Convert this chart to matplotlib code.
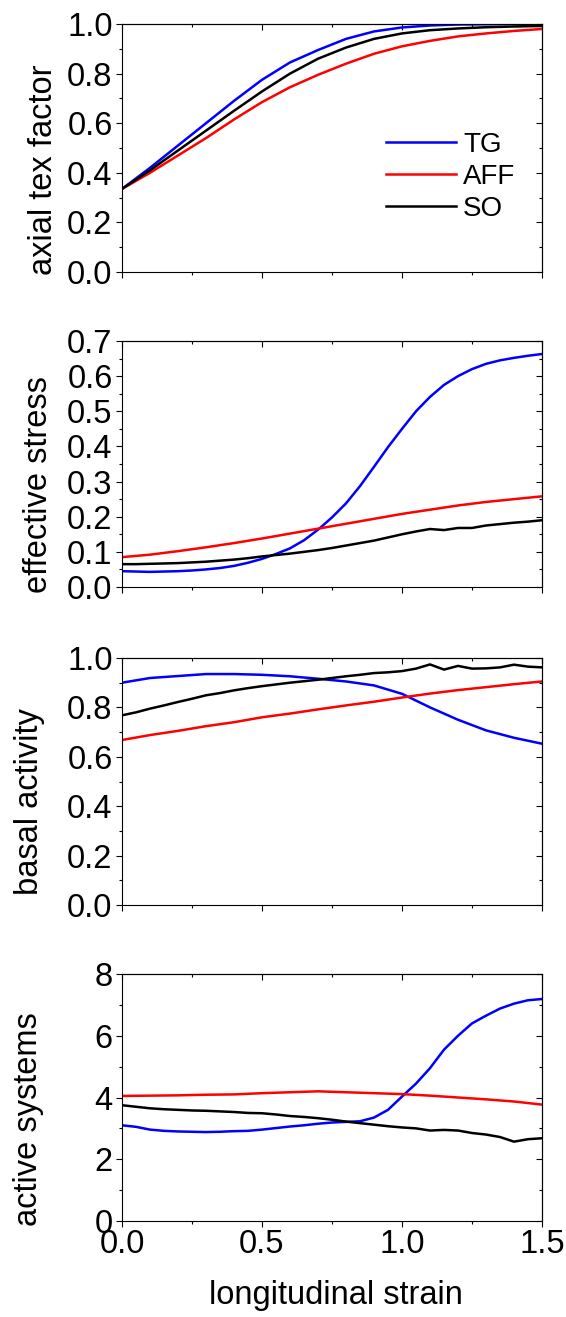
import matplotlib
matplotlib.use("Agg")
import matplotlib.pyplot as plt
from matplotlib.ticker import MultipleLocator, FormatStrFormatter

plt.rcParams['font.family'] = ['Liberation Sans', 'DejaVu Sans']

# strain grids (coarse for smooth curves, fine for the wiggly / steep ones)
strain = [0.0, 0.1, 0.2, 0.3, 0.4, 0.5, 0.6, 0.7, 0.8, 0.9, 1.0, 1.1, 1.2, 1.3, 1.4, 1.5]
strain_fine = [0.0, 0.05, 0.1, 0.15, 0.2, 0.25, 0.3, 0.35, 0.4, 0.45, 0.5, 0.55,
               0.6, 0.65, 0.7, 0.75, 0.8, 0.85, 0.9, 0.95, 1.0, 1.05, 1.1, 1.15,
               1.2, 1.25, 1.3, 1.35, 1.4, 1.45, 1.5]

# axial tex factor
tex_tg = [0.335, 0.42, 0.51, 0.60, 0.69, 0.775, 0.845, 0.895, 0.94, 0.97, 0.986, 0.994, 0.998, 0.999, 1.0, 1.0]
tex_aff = [0.335, 0.40, 0.47, 0.54, 0.615, 0.685, 0.745, 0.795, 0.84, 0.88, 0.91, 0.932, 0.95, 0.962, 0.972, 0.98]
tex_so = [0.335, 0.41, 0.49, 0.57, 0.65, 0.728, 0.80, 0.86, 0.905, 0.94, 0.962, 0.975, 0.982, 0.987, 0.99, 0.992]

# effective stress
stress_tg = [0.045, 0.044, 0.043, 0.044, 0.045, 0.047, 0.05, 0.054, 0.06, 0.069, 0.08, 0.094,
             0.11, 0.133, 0.163, 0.198, 0.238, 0.287, 0.342, 0.398, 0.45, 0.50, 0.541, 0.575,
             0.60, 0.62, 0.635, 0.645, 0.652, 0.658, 0.663]
stress_aff = [0.085, 0.092, 0.102, 0.113, 0.125, 0.138, 0.152, 0.166, 0.18, 0.194, 0.208, 0.22, 0.232, 0.242, 0.25, 0.258]
stress_so = [0.065, 0.065, 0.066, 0.067, 0.068, 0.070, 0.072, 0.075, 0.078, 0.082, 0.087, 0.091,
             0.095, 0.10, 0.105, 0.111, 0.118, 0.125, 0.132, 0.141, 0.15, 0.158, 0.165, 0.162,
             0.168, 0.168, 0.175, 0.179, 0.183, 0.186, 0.19]

# basal activity
basal_tg = [0.90, 0.919, 0.927, 0.935, 0.935, 0.932, 0.926, 0.916, 0.905, 0.889, 0.855, 0.80, 0.75, 0.707, 0.677, 0.653]
basal_aff = [0.668, 0.688, 0.705, 0.724, 0.74, 0.76, 0.775, 0.792, 0.808, 0.823, 0.84, 0.856, 0.87, 0.882, 0.894, 0.905]
basal_so = [0.768, 0.78, 0.795, 0.808, 0.822, 0.835, 0.849, 0.858, 0.869, 0.878, 0.886, 0.893,
            0.90, 0.906, 0.912, 0.919, 0.926, 0.932, 0.939, 0.942, 0.947, 0.957, 0.974, 0.953,
            0.968, 0.957, 0.958, 0.962, 0.973, 0.965, 0.962]

# active systems
systems_tg = [3.1, 3.05, 2.96, 2.92, 2.9, 2.89, 2.88, 2.89, 2.91, 2.92, 2.96, 3.01,
              3.06, 3.1, 3.15, 3.19, 3.21, 3.23, 3.35, 3.6, 4.03, 4.45, 4.95, 5.55,
              6.0, 6.4, 6.65, 6.88, 7.04, 7.15, 7.19]
systems_aff = [4.05, 4.06, 4.07, 4.09, 4.1, 4.14, 4.17, 4.2, 4.17, 4.14, 4.11, 4.06, 4.0, 3.94, 3.87, 3.77]
systems_so = [3.75, 3.7, 3.65, 3.62, 3.6, 3.58, 3.57, 3.55, 3.53, 3.5, 3.49, 3.45,
              3.4, 3.37, 3.33, 3.28, 3.22, 3.17, 3.12, 3.07, 3.03, 3.0, 2.93, 2.95,
              2.93, 2.85, 2.8, 2.72, 2.57, 2.65, 2.68]

W, H = 566, 1317
fig = plt.figure(figsize=(W / 100, H / 100), dpi=100)

# panel boxes in pixels: (top, bottom)
boxes = [(24, 272), (341, 587), (658, 905), (974, 1221)]
left_px, right_px = 122, 542

panels = [
    ("axial tex factor", (tex_tg, strain), (tex_aff, strain), (tex_so, strain), 1.0, 0.2, 0.1, '%.1f'),
    ("effective stress", (stress_tg, strain_fine), (stress_aff, strain), (stress_so, strain_fine), 0.7, 0.1, 0.05, '%.1f'),
    ("basal activity", (basal_tg, strain), (basal_aff, strain), (basal_so, strain_fine), 1.0, 0.2, 0.1, '%.1f'),
    ("active systems", (systems_tg, strain_fine), (systems_aff, strain), (systems_so, strain_fine), 8, 2, 1, '%d'),
]
label_pos = [(52, 170), (47, 485), (38, 802), (37, 1119)]

fs = 23.5
lw = 1.8
for i, (name, tg, aff, so, ymax, ymaj, ymin, fmt) in enumerate(panels):
    top, bot = boxes[i]
    ax = fig.add_axes([left_px / W, 1 - bot / H, (right_px - left_px) / W, (bot - top) / H])
    ax.plot(tg[1], tg[0], color='#0000ff', lw=lw, label='TG')
    ax.plot(aff[1], aff[0], color='#ff0000', lw=lw, label='AFF')
    ax.plot(so[1], so[0], color='black', lw=lw, label='SO')
    ax.set_xlim(0, 1.5)
    ax.set_ylim(0, ymax)
    ax.xaxis.set_major_locator(MultipleLocator(0.5))
    ax.xaxis.set_minor_locator(MultipleLocator(0.25))
    ax.yaxis.set_major_locator(MultipleLocator(ymaj))
    ax.yaxis.set_minor_locator(MultipleLocator(ymin))
    ax.yaxis.set_major_formatter(FormatStrFormatter(fmt))
    ax.xaxis.set_major_formatter(FormatStrFormatter('%.1f'))
    for sp in ax.spines.values():
        sp.set_linewidth(0.8)
    ax.tick_params(which='major', direction='out', length=4.3, width=0.8, labelsize=fs, pad=2.5)
    ax.tick_params(which='minor', direction='out', length=2.5, width=0.8)
    ax.tick_params(axis='x', pad=1.5)
    if i < 3:
        ax.tick_params(axis='x', labelbottom=False)

    # mirrored ticks on top and right, pointing inwards
    sx = ax.secondary_xaxis('top')
    sx.xaxis.set_major_locator(MultipleLocator(0.5))
    sx.xaxis.set_minor_locator(MultipleLocator(0.25))
    sx.tick_params(which='major', direction='in', length=4.3, width=0.8, labeltop=False)
    sx.tick_params(which='minor', direction='in', length=2.5, width=0.8)
    sy = ax.secondary_yaxis('right')
    sy.yaxis.set_major_locator(MultipleLocator(ymaj))
    sy.yaxis.set_minor_locator(MultipleLocator(ymin))
    sy.tick_params(which='major', direction='in', length=4.3, width=0.8, labelright=False)
    sy.tick_params(which='minor', direction='in', length=2.5, width=0.8)
    for s in (sx, sy):
        for sp in s.spines.values():
            sp.set_linewidth(0.8)

    bx, by = label_pos[i]
    fig.text(bx / W, 1 - by / H, name, rotation=90, rotation_mode='anchor',
             ha='center', va='baseline', fontsize=fs)

    if i == 0:
        ax.legend(loc='upper left', bbox_to_anchor=(0.629, 0.565), frameon=False,
                  fontsize=20, handlelength=2.52, handletextpad=0.25,
                  labelspacing=0.22, borderpad=0, borderaxespad=0)

fig.text(336 / W, 1 - 1304 / H, "longitudinal strain", ha='center', va='baseline', fontsize=fs)

fig.savefig('out.png', dpi=100)
